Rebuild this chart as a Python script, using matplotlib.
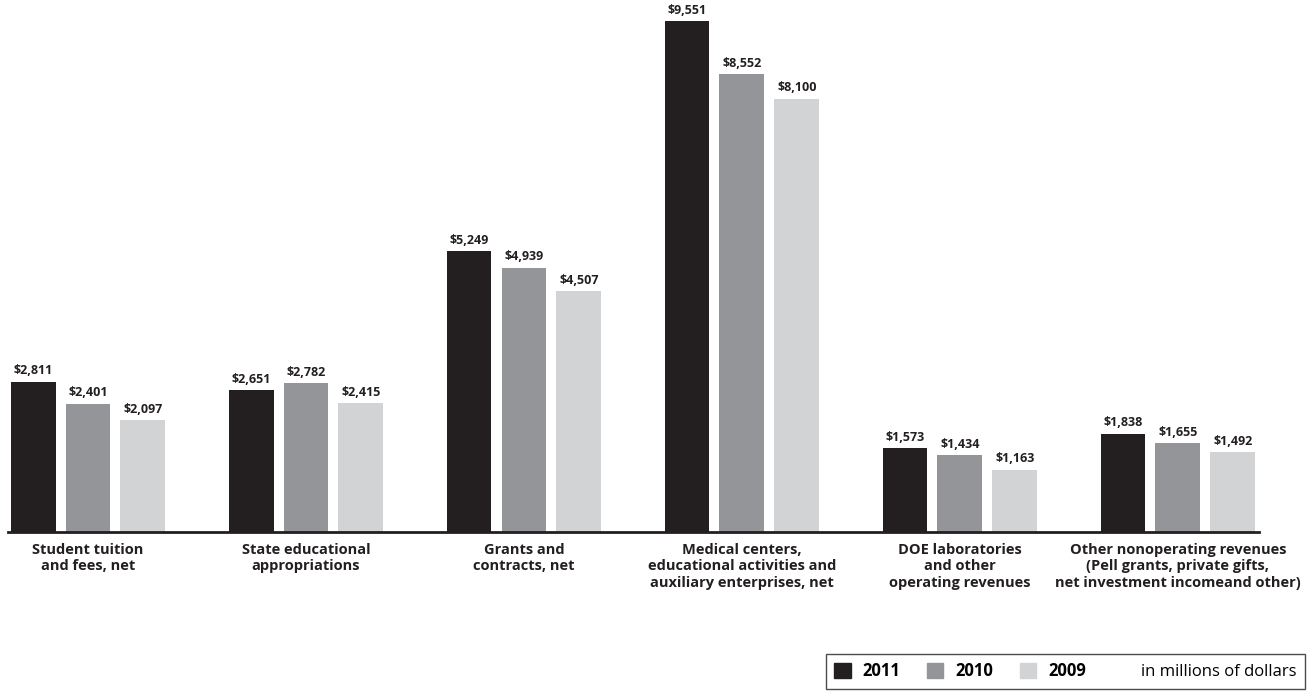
import numpy as np
import matplotlib.pyplot as plt
from matplotlib.patches import Patch

categories = ['Student tuition\nand fees, net',
              'State educational\nappropriations',
              'Grants and\ncontracts, net',
              'Medical centers,\neducational activities and\nauxiliary enterprises, net',
              'DOE laboratories\nand other\noperating revenues',
              'Other nonoperating revenues\n(Pell grants, private gifts,\nnet investment incomeand other)']
years = ['2011', '2010', '2009']
v2011 = [2811, 2651, 5249, 9551, 1573, 1838]
v2010 = [2401, 2782, 4939, 8552, 1434, 1655]
v2009 = [2097, 2415, 4507, 8100, 1163, 1492]
colors = ['#231f20', '#939598', '#d1d3d4']

plt.rcParams['font.family'] = ['Open Sans', 'DejaVu Sans']

fig = plt.figure(figsize=(13.14, 7), dpi=100)
ax = fig.add_axes([8/1314, 1-532/700, (1259-8)/1314, 532/700])

x = np.arange(len(categories))
w = 0.206
off = 0.252
series = [v2011, v2010, v2009]
for k, (vals, c) in enumerate(zip(series, colors)):
    xs = x + (k-1)*off
    ax.bar(xs, vals, width=w, color=c, zorder=2)
    for xi, v in zip(xs, vals):
        ax.text(xi, v + 80, '${:,}'.format(v), ha='center', va='bottom',
                fontsize=9, fontweight='bold', color='#231f20')

ax.set_xlim(-0.367, 5.372)
ax.set_ylim(0, 532/511*9551)
for s in ['top', 'right', 'left']:
    ax.spines[s].set_visible(False)
ax.spines['bottom'].set_linewidth(2)
ax.spines['bottom'].set_color('#231f20')
ax.set_yticks([])
ax.set_xticks(x)
ax.set_xticklabels(categories, fontsize=10.5, fontweight='bold', color='#231f20',
                   linespacing=1.2)
ax.tick_params(axis='x', length=0, pad=8)

handles = [Patch(color=c) for c in colors] + [Patch(color='none')]
labels = years + ['in millions of dollars']
leg = fig.legend(handles, labels, ncol=4, loc='lower right',
                 bbox_to_anchor=(1313/1314, 3/700), frameon=True,
                 fancybox=False, edgecolor='#231f20', fontsize=12,
                 handlelength=1.0, handleheight=1.0, columnspacing=1.6,
                 handletextpad=0.7, borderpad=0.5)
leg.get_frame().set_linewidth(1)
for t in leg.get_texts()[:3]:
    t.set_fontweight('bold')

fig.savefig('out.png', dpi=100)
